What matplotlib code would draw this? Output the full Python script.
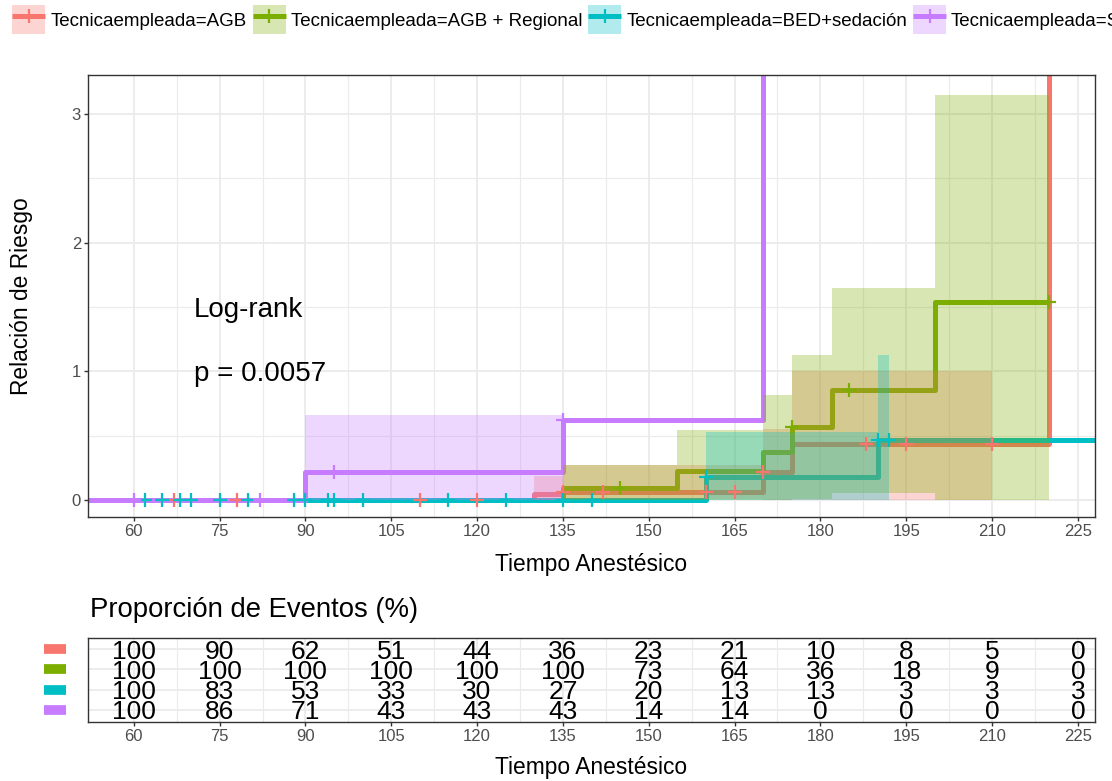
import numpy as np
import matplotlib
matplotlib.use('Agg')
import matplotlib.pyplot as plt
from matplotlib.patches import Patch
from matplotlib.lines import Line2D
from matplotlib.legend_handler import HandlerTuple
import matplotlib.transforms as mtransforms

plt.rcParams['font.family'] = ['Liberation Sans', 'DejaVu Sans']

# --- data ---
labels = ['Tecnicaempleada=AGB', 'Tecnicaempleada=AGB + Regional',
          'Tecnicaempleada=BED+sedación', 'Tecnicaempleada=Sedación']
colors = ['#F8766D', '#7CAE00', '#00BFC4', '#C77CFF']

# cumulative hazard steps (time, value), confidence band per step
agb_t = [0, 130, 135, 170, 175, 210, 220]
agb_h = [0, 0.05, 0.062, 0.22, 0.44, 0.44, np.inf]
agb_lo = [0, 0.005, 0.01, 0.0, 0.0, np.nan, np.nan]
agb_up = [0, 0.19, 0.27, 0.55, 1.0, np.nan, np.nan]
agb_cens = [67, 78, 110, 120, 135, 142, 160, 165, 170, 188, 195, 210]

reg_t = [0, 135, 155, 170, 175, 182, 200, 220]
reg_h = [0, 0.093, 0.225, 0.375, 0.57, 0.855, 1.54, 1.54]
reg_lo = [0, 0.0, 0.0, 0.0, 0.013, 0.06, 0.0, np.nan]
reg_up = [0, 0.27, 0.545, 0.815, 1.127, 1.645, 3.147, np.nan]
reg_cens = [145, 175, 185, 220]

bed_t = [0, 160, 190, 192, 240]
bed_h = [0, 0.18, 0.466, 0.466, 0.466]
bed_lo = [0, 0.0, 0.0, np.nan, np.nan]
bed_up = [0, 0.53, 1.13, np.nan, np.nan]
bed_cens = [62, 65, 68, 70, 75, 80, 88, 90, 94, 95, 100, 115, 125, 135, 140,
            160, 190, 192]

sed_t = [0, 90, 135, 170]
sed_h = [0, 0.22, 0.62, np.inf]
sed_lo = [0, 0.0, np.nan, np.nan]
sed_up = [0, 0.66, np.nan, np.nan]
sed_cens = [60, 82, 95, 135]

# risk table: percent at each break
tab_times = [60, 75, 90, 105, 120, 135, 150, 165, 180, 195, 210, 225]
tab_agb = [100, 90, 62, 51, 44, 36, 23, 21, 10, 8, 5, 0]
tab_reg = [100, 100, 100, 100, 100, 100, 73, 64, 36, 18, 9, 0]
tab_bed = [100, 83, 53, 33, 30, 27, 20, 13, 13, 3, 3, 3]
tab_sed = [100, 86, 71, 43, 43, 43, 14, 14, 0, 0, 0, 0]

curves = [(agb_t, agb_h, agb_lo, agb_up, agb_cens),
          (reg_t, reg_h, reg_lo, reg_up, reg_cens),
          (bed_t, bed_h, bed_lo, bed_up, bed_cens),
          (sed_t, sed_h, sed_lo, sed_up, sed_cens)]
table_rows = [tab_agb, tab_reg, tab_bed, tab_sed]

grid_c = '#EBEBEB'
dark = '#333333'
tick_c = '#4D4D4D'

fig = plt.figure(figsize=(11.12, 7.81), dpi=100)
ax = fig.add_axes([88 / 1112, 1 - 517 / 781, 1007 / 1112, 442 / 781])

for (t, h, lo, up, cens), c in zip(curves, colors):
    t = np.array(t, float)
    h = np.array(h, float)
    hd = np.where(np.isinf(h), 50.0, h)
    ax.step(t, hd, where='post', color=c, lw=3.6, zorder=2,
            solid_joinstyle='round', solid_capstyle='butt')
    xs = np.repeat(t, 2)[1:-1]
    lo_s = np.repeat(np.array(lo, float), 2)[:-2]
    up_s = np.repeat(np.array(up, float), 2)[:-2]
    ax.fill_between(xs, lo_s, up_s, color=c, alpha=0.3, lw=0, zorder=3)

for (t, h, lo, up, cens), c in zip(curves, colors):
    idx = np.searchsorted(t, cens, side='right') - 1
    lvl = np.array(h, float)[idx]
    ax.plot(cens, lvl, '+', color=c, ms=10, mew=1.6, ls='none', zorder=4)

ax.set_xlim(52, 228)
ax.set_ylim(-0.13, 3.30)
ax.set_xticks(tab_times)
ax.set_xticks(np.arange(67.5, 228, 15), minor=True)
ax.set_yticks([0, 1, 2, 3])
ax.set_yticks([0.5, 1.5, 2.5], minor=True)
ax.grid(True, which='major', color=grid_c, lw=1.3, zorder=0)
ax.grid(True, which='minor', color=grid_c, lw=0.8, zorder=0)
ax.set_axisbelow(True)
ax.tick_params(which='major', length=3, width=1, color=dark, labelsize=12,
               labelcolor=tick_c, pad=2)
ax.tick_params(which='minor', length=0)
for s in ax.spines.values():
    s.set_color(dark)
    s.set_linewidth(1)

ax.set_xlabel('Tiempo Anestésico', fontsize=16.4)
ax.xaxis.set_label_coords(0.5, -0.082)
ax.set_ylabel('Relación de Riesgo', fontsize=16.4)
ax.yaxis.set_label_coords(-0.055, 0.5)

ax.text(70.5, 1.476, 'Log-rank', fontsize=20, va='center', ha='left')
ax.text(70.5, 0.98, 'p = 0.0057', fontsize=20, va='center', ha='left')

# legend: light box with the line and a censor mark on top
handles = [(Patch(facecolor=c, alpha=0.3, edgecolor='none'),
            Line2D([], [], color=c, lw=3.6, marker='+', ms=10, mew=1.6,
                   solid_capstyle='butt'))
           for c in colors]
fig.legend(handles, labels, handler_map={tuple: HandlerTuple(ndivide=1, pad=0)},
           loc='upper left', bbox_to_anchor=(0.011, 0.993), ncol=4, frameon=False,
           fontsize=13.5, handlelength=1.76, handleheight=2.0, handletextpad=0.27,
           columnspacing=0.32, borderaxespad=0, borderpad=0)

# risk table
axt = fig.add_axes([88 / 1112, 1 - 722 / 781, 1007 / 1112, 84 / 781])
rows = np.arange(1, len(table_rows) + 1)
for r, vals in zip(rows, table_rows):
    for x, v in zip(tab_times, vals):
        axt.text(x, r, str(v), ha='center', va='center_baseline', fontsize=19)
axt.set_xlim(52, 228)
axt.set_ylim(4.6, 0.45)
axt.set_xticks(tab_times)
axt.set_xticks(np.arange(67.5, 228, 15), minor=True)
axt.set_yticks(rows)
axt.set_yticklabels([])
axt.grid(True, which='major', color=grid_c, lw=1.3, zorder=0)
axt.grid(True, which='minor', axis='x', color=grid_c, lw=0.8, zorder=0)
axt.tick_params(axis='x', which='major', length=3, width=1, color=dark,
                labelsize=12, labelcolor=tick_c, pad=2)
axt.tick_params(axis='y', length=0)
axt.tick_params(which='minor', length=0)
for s in axt.spines.values():
    s.set_color(dark)
    s.set_linewidth(1)
axt.set_xlabel('Tiempo Anestésico', fontsize=16.4)
axt.xaxis.set_label_coords(0.5, -0.40)

trans = mtransforms.blended_transform_factory(axt.transAxes, axt.transData)
for r, c in zip(rows, colors):
    axt.plot([-0.0437, -0.0218], [r, r], color=c, lw=7, transform=trans,
             clip_on=False, solid_capstyle='butt')

fig.text(90 / 1112, 1 - 610 / 781, 'Proporción de Eventos (%)', fontsize=19.8,
         va='center', ha='left')

fig.savefig('out.png', dpi=100)
